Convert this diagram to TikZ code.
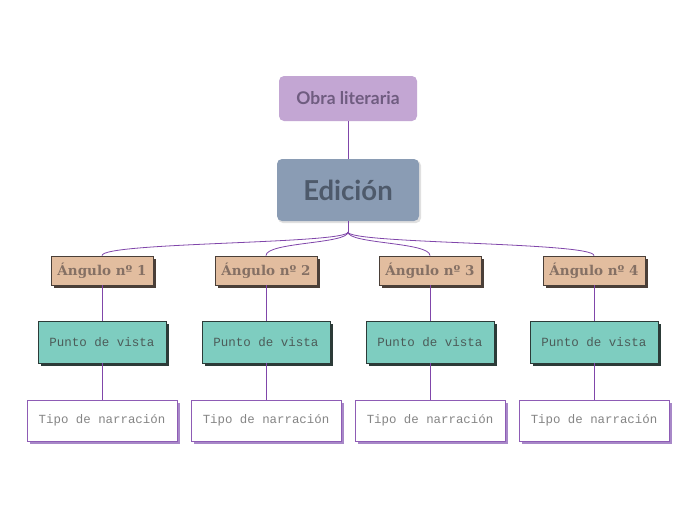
\documentclass[tikz,border=0pt]{standalone}
\usepackage{fontspec}
\setmainfont{Lato}
\newfontfamily\slabfont{DejaVu Serif}
\newfontfamily\monofont{Liberation Mono}
\definecolor{obrafill}{HTML}{C3A6D3}
\definecolor{obratext}{HTML}{6F5C80}
\definecolor{edfill}{HTML}{8A9CB4}
\definecolor{edtext}{HTML}{4E5A6B}
\definecolor{angfill}{HTML}{E2BD9F}
\definecolor{angline}{HTML}{4A3F38}
\definecolor{angtext}{HTML}{857064}
\definecolor{ptofill}{HTML}{7ECDC0}
\definecolor{ptoline}{HTML}{2C3B38}
\definecolor{ptotext}{HTML}{4C5C59}
\definecolor{tipoline}{HTML}{8E5CB5}
\definecolor{tiposhadow}{HTML}{A888C8}
\definecolor{tipotext}{HTML}{858585}
\definecolor{conn}{HTML}{8046AA}
\begin{document}
\begin{tikzpicture}[x=1pt,y=-1pt,
  conn/.style={draw=conn,line width=0.8pt},
  obrabox/.style={fill=obrafill,rounded corners=5pt,minimum width=138pt,minimum height=45pt,text=obratext,font=\bfseries\fontsize{17.5}{20}\selectfont},
  edbox/.style={fill=edfill,rounded corners=5pt,minimum width=142pt,minimum height=62pt,text=edtext,font=\bfseries\fontsize{27.5}{30}\selectfont},
  angbox/.style={fill=angfill,draw=angline,line width=0.8pt,minimum width=102pt,minimum height=29pt,inner sep=0pt},
  angshadow/.style={fill=angline,minimum width=102pt,minimum height=29pt,inner sep=0pt},
  angtxt/.style={text=angtext,font=\slabfont\bfseries\fontsize{13.5}{15}\selectfont},
  ptobox/.style={fill=ptofill,draw=ptoline,line width=0.8pt,minimum width=128pt,minimum height=42pt,text=ptotext,font=\monofont\fontsize{12.5}{14}\selectfont,inner sep=0pt},
  ptoshadow/.style={fill=ptoline,minimum width=128pt,minimum height=42pt,inner sep=0pt},
  tipobox/.style={fill=white,draw=tipoline,line width=0.8pt,minimum width=150pt,minimum height=41pt,text=tipotext,font=\monofont\fontsize{12.4}{14}\selectfont,inner sep=0pt},
  tiposhadow/.style={fill=tiposhadow,minimum width=150pt,minimum height=41pt,inner sep=0pt}]
\useasboundingbox (0,0) rectangle (697,520);
\fill[white] (0,0) rectangle (697,520);
% top nodes
\node[obrabox] (obra) at (348,98.5) {Obra literaria};
\fill[black!12,rounded corners=5pt] (278,160.5) rectangle (421,223);
\node[edbox] (ed) at (348,190) {Edición};
\draw[conn] (obra.south) -- (ed.north);
\coordinate (split) at (348,232);
\draw[conn] (ed.south) -- (split);
\foreach \i/\x in {1/102,2/266,3/430,4/594}{
  \node[angshadow] at (\x+3,273) {};
  \node[angbox] (a\i) at (\x,270.5) {};
  \node[angtxt] at (a\i.center) {Ángulo nº \i};
  \node[ptoshadow] at (\x+3,345) {};
  \node[ptobox] (p\i) at (\x,342) {Punto de vista};
  \node[tiposhadow] at (\x+3,423.5) {};
  \node[tipobox] (t\i) at (\x,420.5) {Tipo de narración};
  \draw[conn] (a\i.south) -- (p\i.north);
  \draw[conn] (p\i.south) -- (t\i.north);
  \draw[conn] (split) .. controls (348,244) and (\x,242) .. (a\i.north);
}
\end{tikzpicture}
\end{document}
